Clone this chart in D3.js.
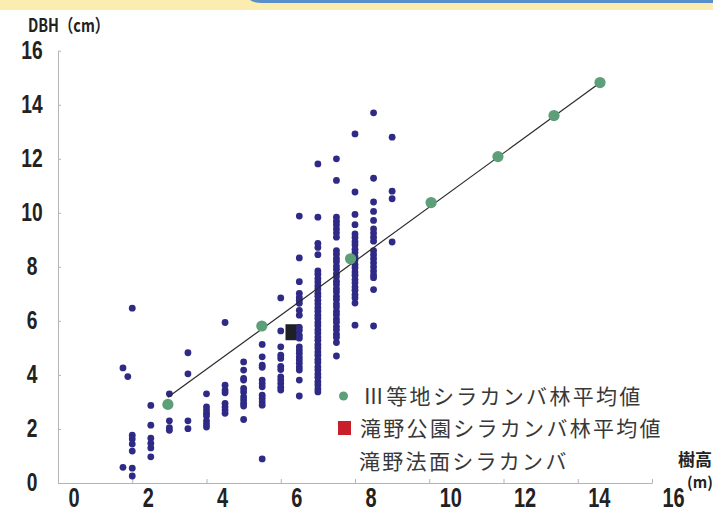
<!DOCTYPE html>
<html lang="ja">
<head>
<meta charset="utf-8">
<script src="https://cdn.jsdelivr.net/npm/d3@7"></script>
<style>
  html, body { margin: 0; padding: 0; background: #fff; }
  svg { display: block; }
  .num { font-family: "Liberation Sans", Arial, sans-serif; font-weight: bold; fill: #222; }
  .jp { font-family: "Noto Sans CJK JP", "Noto Sans", sans-serif; }
</style>
</head>
<body>
<svg id="chart" width="713" height="509"></svg>
<script>
// Tree height classes (m) measured on the slope stand, and DBH (cm) of each tree in that class
const slopeHeights = [1.75, 1.88, 2.0, 2.5, 3.0, 3.5, 4.0, 4.5, 5.0, 5.5, 6.0, 6.5, 7.0, 7.5, 8.0, 8.5, 9.0];
const slopeDbh = [
  [4.26, 0.58],
  [3.94],
  [6.47, 1.77, 1.63, 1.44, 1.18, 0.55, 0.26],
  [2.87, 2.14, 1.66, 1.47, 1.30, 0.97],
  [3.30, 2.30, 2.05, 1.95],
  [4.82, 4.04, 2.30, 2.01],
  [3.30, 2.82, 2.70, 2.58, 2.48, 2.30, 2.18, 2.07],
  [5.94, 3.62, 3.44, 3.34, 2.95, 2.82, 2.70, 2.58],
  [4.48, 4.18, 3.87, 3.81, 3.50, 3.37, 3.19, 3.07, 2.95, 2.85, 2.35],
  [5.13, 4.67, 4.36, 4.28, 3.81, 3.68, 3.56, 3.25, 3.13, 3.00, 2.88, 0.89],
  [6.85, 5.63, 5.04, 4.73, 4.61, 4.32, 4.20, 3.93, 3.81, 3.68, 3.54, 3.44],
  [9.88, 8.33, 7.45, 7.02, 6.87, 6.76, 6.65, 6.39, 6.21, 5.76, 5.65, 5.47, 5.36, 5.04, 4.92, 4.80, 4.66, 4.55, 4.43, 4.29, 4.18, 3.81, 3.22],
  [11.81, 9.84, 8.87, 8.72, 8.45, 7.85, 7.73, 7.57, 7.44, 7.30, 7.18, 7.02, 6.91, 6.76, 6.63, 6.49, 6.36, 6.21, 6.09, 5.94, 5.82, 5.67, 5.55, 5.40, 5.28, 5.12, 5.00, 4.85, 4.73, 4.57, 4.46, 4.30, 4.18, 4.03, 3.91, 3.75, 3.63, 3.48, 3.37],
  [12.00, 11.20, 9.84, 9.69, 9.56, 9.40, 9.26, 9.10, 8.60, 8.47, 8.31, 8.19, 8.03, 7.91, 7.75, 7.63, 7.47, 7.35, 7.19, 7.07, 6.91, 6.79, 6.63, 6.51, 6.35, 6.23, 6.07, 5.95, 5.79, 5.67, 5.51, 5.39, 5.20, 4.70],
  [12.92, 10.77, 9.94, 9.56, 9.22, 9.09, 8.93, 8.81, 8.65, 8.53, 8.37, 8.25, 8.09, 7.97, 7.81, 7.69, 7.53, 7.41, 7.25, 7.13, 6.97, 6.85, 6.66, 5.84],
  [13.70, 11.28, 10.40, 10.05, 9.72, 9.40, 9.25, 9.10, 8.95, 8.60, 8.45, 8.30, 8.15, 8.00, 7.85, 7.70, 7.60, 7.16, 5.81],
  [12.80, 10.80, 10.52, 8.92]
];

// Site class III birch stand averages (yield table)
const classHeights = [2.96, 5.49, 7.88, 10.05, 11.85, 13.36, 14.60];
const classDbh     = [2.91, 5.81, 8.30, 10.38, 12.08, 13.60, 14.82];

// Takino Park birch stand average
const parkHeight = [6.33];
const parkDbh    = [5.58];

// Trend line through the site class averages
const trendHeights = [2.96, 14.60];
const trendDbh     = [3.17, 14.81];

// Axis ticks
const xTicks = [0, 2, 4, 6, 8, 10, 12, 14, 16];
const yTicks = [0, 2, 4, 6, 8, 10, 12, 14, 16];

const legendLabels = ["Ⅲ等地シラカンバ林平均値", "滝野公園シラカンバ林平均値", "滝野法面シラカンバ"];

const colors = {
  slope: "#2e2a86",
  classAvg: "#5c9f78",
  park: "#1f1f26",
  parkLegend: "#c8202a",
  trend: "#2a2a2a",
  axis: "#b4b4b4",
  band: "#fbedb0",
  tab: "#5b8fcb",
  legendText: "#383838"
};

const svg = d3.select("#chart");

// Decorative header band
svg.append("rect").attr("x", 0).attr("y", 0).attr("width", 713).attr("height", 10).attr("fill", colors.band);
svg.append("path")
  .attr("d", "M250,0 L713,0 L713,3 L262,3 Q254,3 250,0 Z")
  .attr("fill", colors.tab);

const x = d3.scaleLinear().domain([0, 16]).range([58, 652]);
const y = d3.scaleLinear().domain([0, 16]).range([483, 50.7]);

// Condensed numerals: squeeze the glyphs horizontally around their anchor
const squeeze = 0.74;

// Axes
const xAxis = svg.append("g")
  .attr("transform", `translate(0,${y(0)})`)
  .call(d3.axisBottom(x).tickValues(xTicks).tickSize(-4).tickSizeOuter(0).tickFormat(d3.format("d")));
xAxis.attr("font-family", null).attr("font-size", null);
xAxis.select(".domain").attr("stroke", colors.axis);
xAxis.selectAll(".tick line").attr("stroke", colors.axis);
xAxis.selectAll(".tick text")
  .attr("class", "num")
  .attr("font-size", 27)
  .attr("text-anchor", "start")
  .attr("x", 0)
  .attr("y", 0)
  .attr("dy", null)
  .attr("transform", `translate(10,24) scale(${squeeze},1)`);

const yAxis = svg.append("g")
  .attr("transform", `translate(${x(0)},0)`)
  .call(d3.axisLeft(y).tickValues(yTicks).tickSize(-3).tickSizeOuter(0).tickFormat(d3.format("d")));
yAxis.attr("font-family", null).attr("font-size", null);
yAxis.select(".domain").attr("stroke", colors.axis);
yAxis.selectAll(".tick line").attr("stroke", colors.axis);
yAxis.selectAll(".tick text")
  .attr("class", "num")
  .attr("font-size", 26)
  .attr("text-anchor", "middle")
  .attr("x", 0)
  .attr("y", 0)
  .attr("dy", null)
  .attr("transform", `translate(-26,7.5) scale(${squeeze},1)`);

// Axis titles
svg.append("text").attr("class", "jp")
  .attr("transform", "translate(28,32) scale(0.8,1)")
  .attr("font-size", 18).attr("font-weight", "bold").attr("fill", "#222")
  .text("DBH（cm）");
svg.append("text").attr("class", "jp")
  .attr("x", 678).attr("y", 466)
  .attr("font-size", 17).attr("font-weight", "bold").attr("fill", "#222")
  .text("樹高");
svg.append("text").attr("class", "jp")
  .attr("x", 687).attr("y", 488)
  .attr("font-size", 15).attr("font-weight", "bold").attr("fill", "#222")
  .text("(m)");

// Park stand average (square)
svg.append("g").selectAll("rect")
  .data(d3.zip(parkHeight, parkDbh))
  .join("rect")
  .attr("x", d => x(d[0]) - 7.5)
  .attr("y", d => y(d[1]) - 8)
  .attr("width", 15)
  .attr("height", 16)
  .attr("fill", colors.park);

// Individual slope trees
const slopePoints = slopeHeights.flatMap((h, i) => slopeDbh[i].map(d => [h, d]));
svg.append("g").selectAll("circle")
  .data(slopePoints)
  .join("circle")
  .attr("cx", d => x(d[0]))
  .attr("cy", d => y(d[1]))
  .attr("r", 3.4)
  .attr("fill", colors.slope);

// Trend line
svg.append("path")
  .datum(d3.zip(trendHeights, trendDbh))
  .attr("d", d3.line().x(d => x(d[0])).y(d => y(d[1])))
  .attr("fill", "none")
  .attr("stroke", colors.trend)
  .attr("stroke-width", 1.2);

// Site class III averages
svg.append("g").selectAll("circle")
  .data(d3.zip(classHeights, classDbh))
  .join("circle")
  .attr("cx", d => x(d[0]))
  .attr("cy", d => y(d[1]))
  .attr("r", 5.6)
  .attr("fill", colors.classAvg);

// Legend
const legendY = [395, 427, 460];
const legend = svg.append("g");
legend.append("circle").attr("cx", 343.5).attr("cy", legendY[0] + 1).attr("r", 4.5).attr("fill", colors.classAvg);
legend.append("rect").attr("x", 338).attr("y", legendY[1] - 6).attr("width", 13).attr("height", 14).attr("fill", colors.parkLegend);
const legendX = [363, 360, 359];
legend.selectAll("text")
  .data(legendLabels)
  .join("text")
  .attr("class", "jp")
  .attr("x", (d, i) => legendX[i])
  .attr("y", (d, i) => legendY[i])
  .attr("dominant-baseline", "central")
  .attr("font-size", 21)
  .attr("letter-spacing", 2.3)
  .attr("fill", colors.legendText)
  .text(d => d);
</script>
</body>
</html>
